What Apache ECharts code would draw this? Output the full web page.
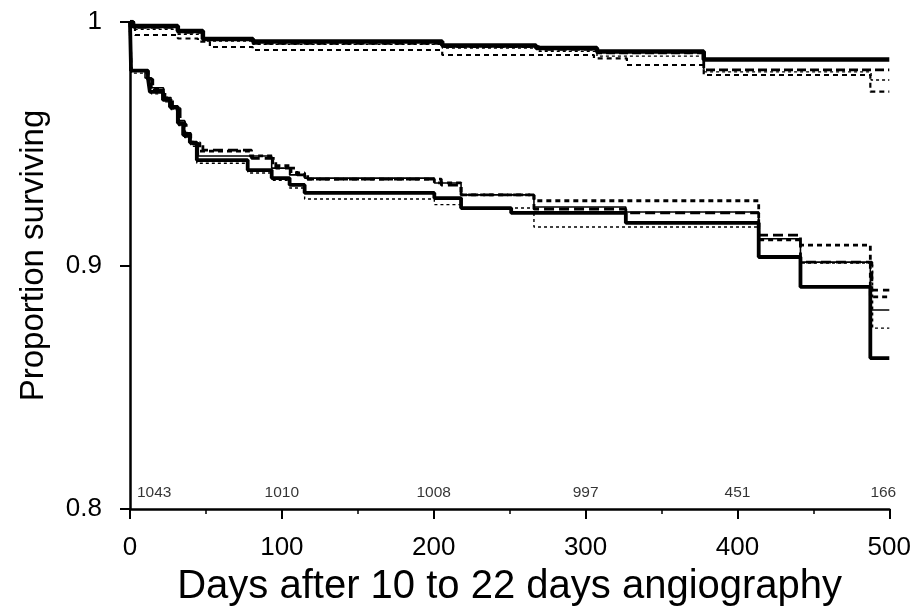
<!DOCTYPE html>
<html>
<head>
<meta charset="utf-8">
<script src="https://cdn.jsdelivr.net/npm/echarts@6/dist/echarts.min.js"></script>
<style>
html,body{margin:0;padding:0;background:#fff;}
#chart{width:914px;height:615px;}
</style>
</head>
<body>
<div id="chart"></div>
<script>
// ---- data: [day, proportion surviving] step points (survival holds from the day on) ----
var upperSolid = [[0,1],[2,0.99836],[31.5,0.99630],[48,0.99302],[81,0.99199],[205.6,0.99035],[267.4,0.98932],[307.5,0.98789],[377.8,0.98460],[500,0.98460]];
var upperLongDash = [[0,1],[2,0.9978],[31.5,0.9957],[48,0.9928],[81,0.9912],[205.6,0.9899],[269.4,0.9888],[307.5,0.9873],[377.8,0.9803],[500,0.9803]];
var upperShortDash = [[0,1],[3.3,0.99466],[31.5,0.99322],[44.7,0.99191],[52.6,0.98973],[80.8,0.98850],[205.6,0.98645],[305.5,0.98509],[327.2,0.98234],[377.8,0.97823],[487.5,0.97138],[500,0.97138]];
var upperDotted = [[0,1],[3,0.9970],[31.5,0.9950],[48,0.9922],[81,0.9908],[205.6,0.9893],[269.4,0.9880],[307.5,0.9860],[377.8,0.9795],[488,0.9762],[500,0.9762]];

var lowerSolid = [[0,1],[0.7,0.9800],[11.8,0.9770],[13.1,0.9713],[21.7,0.9680],[26.3,0.9651],[31.5,0.9585],[35,0.9536],[39.4,0.9505],[44,0.9433],[77.5,0.9392],[93.3,0.9359],[105.1,0.9331],[115,0.9298],[200.4,0.9277],[218,0.9236],[251,0.9216],[326.5,0.9175],[414,0.9035],[441.5,0.8912],[487.5,0.8620],[500,0.8620]];
var lowerThin = [[0,1],[0.7,0.9800],[9.9,0.9770],[14,0.9730],[22,0.9690],[27,0.9650],[32,0.9595],[36,0.9545],[40,0.9500],[45,0.9450],[93.3,0.9400],[105.1,0.9372],[115,0.9359],[200.4,0.9339],[218,0.9290],[266,0.9240],[326.5,0.9220],[414,0.9110],[441.5,0.9014],[487.5,0.8817],[500,0.8817]];
var lowerLongDash = [[0,1],[0.7,0.9800],[12,0.9765],[15,0.9720],[23,0.9685],[28,0.9645],[33,0.9580],[37,0.9530],[41,0.9500],[48,0.9474],[80,0.9440],[96,0.9400],[110,0.9372],[117,0.9355],[205,0.9330],[218,0.9290],[266,0.9232],[326.5,0.9216],[414,0.9125],[441.5,0.9014],[488.5,0.8899],[500,0.8899]];
var lowerShortDash = [[0,1],[0.7,0.9800],[11,0.9768],[14,0.9725],[22,0.9688],[27,0.9648],[32,0.9590],[36,0.9540],[40,0.9505],[46,0.9470],[78,0.9450],[94,0.9410],[106,0.9380],[115,0.9355],[200.4,0.9339],[218,0.9290],[266,0.9266],[414,0.9105],[441.5,0.9084],[487.5,0.8871],[500,0.8871]];
var lowerDotted = [[0,1],[0.7,0.9790],[12,0.9760],[14,0.9705],[22,0.9672],[27,0.9640],[32,0.9575],[36,0.9525],[40,0.9490],[44,0.9420],[77.5,0.9380],[93.3,0.9350],[105.1,0.9318],[115,0.9273],[200.4,0.9250],[218,0.9236],[266,0.9158],[414,0.9030],[441.5,0.9010],[489,0.8743],[500,0.8743]];

// numbers at risk
var riskDays = [0, 100, 200, 300, 400, 500];
var riskCounts = [1043, 1010, 1008, 997, 451, 166];

var xTicks = [0, 100, 200, 300, 400, 500];
var yTicks = [0.8, 0.9, 1];

var FONT = 'Liberation Sans, Arial, Helvetica, sans-serif';
var RISK_Y = 0.8066;

function stepSeries(name, data, width, type) {
  return {
    name: name, type: 'line', step: 'end', data: data,
    symbol: 'none', silent: true,
    lineStyle: {color: '#000', width: width, type: type, cap: 'butt'},
    z: 3
  };
}

var riskData = riskDays.map(function (d, i) {
  var item = {value: [d, RISK_Y], count: riskCounts[i]};
  if (i === 0) item.label = {align: 'left', offset: [7, 0]};
  if (i === riskDays.length - 1) item.label = {align: 'center', offset: [-6, 0]};
  return item;
});

var chart = echarts.init(document.getElementById('chart'), null, {renderer: 'canvas'});
chart.setOption({
  animation: false,
  backgroundColor: '#fff',
  grid: {left: 130, right: 23, top: 22, bottom: 106, containLabel: false},
  xAxis: {
    type: 'value', min: 0, max: 500, interval: 100,
    name: 'Days after 10 to 22 days angiography',
    nameLocation: 'middle', nameGap: 58,
    nameTextStyle: {fontFamily: FONT, fontSize: 40, color: '#000'},
    axisLine: {show: true, onZero: false, lineStyle: {color: '#000', width: 2.5}},
    axisTick: {show: true, inside: false, length: 10, lineStyle: {color: '#000', width: 2}},
    minorTick: {show: true, splitNumber: 2, length: 5, lineStyle: {color: '#000', width: 1.5}},
    axisLabel: {
      fontFamily: FONT, fontSize: 26, color: '#000', margin: 26,
      customValues: xTicks
    },
    splitLine: {show: false}
  },
  yAxis: {
    type: 'value', min: 0.8, max: 1, interval: 0.1,
    name: 'Proportion surviving',
    nameLocation: 'middle', nameGap: 80,
    nameTextStyle: {fontFamily: FONT, fontSize: 33, color: '#000', padding: [0, 0, 0, 20]},
    axisLine: {show: true, onZero: false, lineStyle: {color: '#000', width: 2.5}},
    axisTick: {show: true, inside: false, length: 10, lineStyle: {color: '#000', width: 2}},
    axisLabel: {
      fontFamily: FONT, fontSize: 26, color: '#000', margin: 28,
      formatter: function (v) { return String(+v.toFixed(2)); }
    },
    splitLine: {show: false}
  },
  series: [
    stepSeries('upperDotted', upperDotted, 1.4, [3, 3]),
    stepSeries('upperShortDash', upperShortDash, 2.2, [5, 4]),
    stepSeries('upperLongDash', upperLongDash, 2.8, [9, 4]),
    stepSeries('upperSolid', upperSolid, 4.5, 'solid'),
    stepSeries('lowerDotted', lowerDotted, 1.4, [3, 3]),
    stepSeries('lowerThin', lowerThin, 1.6, 'solid'),
    stepSeries('lowerShortDash', lowerShortDash, 2.8, [5, 4]),
    stepSeries('lowerLongDash', lowerLongDash, 2.8, [10, 5]),
    stepSeries('lowerSolid', lowerSolid, 3.8, 'solid'),
    {
      name: 'risk', type: 'scatter', data: riskData, symbolSize: 0, silent: true,
      label: {
        show: true, position: 'inside', color: '#000', fontFamily: FONT, fontSize: 15.5,
        formatter: function (p) { return String(p.data.count); }
      },
      z: 5
    }
  ]
});
</script>
</body>
</html>
